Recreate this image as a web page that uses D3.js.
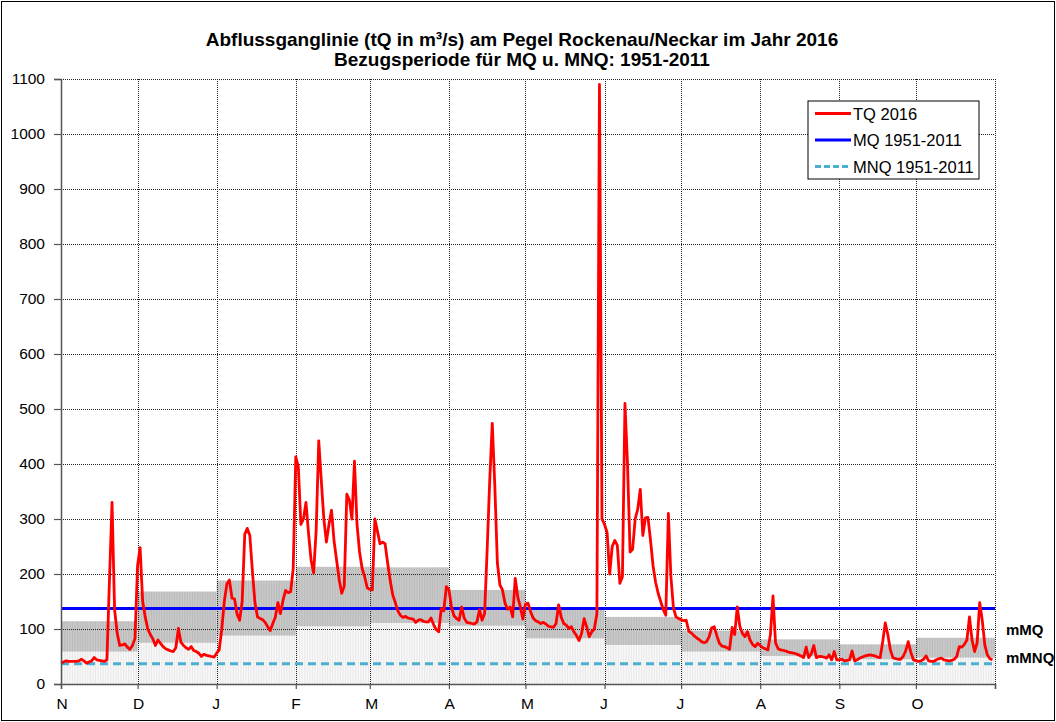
<!DOCTYPE html>
<html>
<head>
<meta charset="utf-8">
<script src="https://cdn.jsdelivr.net/npm/d3@7"></script>
<style>
  body { margin: 0; background: #fff; }
  svg text { font-family: Arial, "Liberation Sans", sans-serif; }
</style>
</head>
<body>
<div class="chart"></div>
<script>
// hydrological year Nov 2015 - Oct 2016
const monthLabels = ['N', 'D', 'J', 'F', 'M', 'A', 'M', 'J', 'J', 'A', 'S', 'O'];
const monthDays = [30, 31, 31, 29, 31, 30, 31, 30, 31, 31, 30, 31];

// monthly mean (mMQ) and mean low flow (mMNQ), m³/s
const mMQ = [114, 168, 188, 213, 212, 171, 140, 122, 97, 81, 72, 84];
const mMNQ = [59, 75, 88, 105, 111, 106, 83, 71, 59, 51, 45, 48];

const MQ = 137.5;  // MQ 1951-2011
const MNQ = 37;    // MNQ 1951-2011

const yTicks = [0, 100, 200, 300, 400, 500, 600, 700, 800, 900, 1000, 1100];

// daily discharge TQ 2016, one row per month
const tq = [
  // Nov
  38, 40, 42, 41, 41, 41, 41, 42, 45, 42, 38, 40, 42, 48, 44, 43, 42, 41, 44, 190, 330, 135, 93, 70, 71, 73, 67, 63, 70, 83,
  // Dec
  215, 248, 150, 122, 100, 90, 82, 70, 80, 74, 68, 64, 62, 60, 59, 66, 101, 76, 70, 66, 63, 68, 61, 59, 56, 50, 54, 52, 51, 50, 49,
  // Jan
  56, 62, 100, 150, 182, 189, 156, 155, 127, 116, 150, 272, 283, 270, 205, 148, 122, 119, 117, 112, 104, 97, 110, 122, 148, 128, 152, 170, 166, 168, 210,
  // Feb
  413, 395, 290, 300, 330, 274, 225, 202, 280, 442, 370, 300, 258, 290, 316, 260, 225, 190, 165, 178, 345, 335, 300, 405, 290, 240, 210, 195, 175,
  // Mar
  172, 171, 300, 278, 255, 258, 255, 220, 188, 162, 148, 133, 125, 121, 123, 120, 119, 118, 112, 116, 117, 114, 113, 113, 120, 108, 99, 95, 137, 133, 177,
  // Apr
  172, 140, 124, 119, 116, 140, 120, 112, 111, 110, 109, 113, 135, 116, 128, 245, 370, 474, 360, 220, 180, 171, 147, 136, 140, 122, 192, 158, 140, 118,
  // May
  145, 147, 132, 120, 115, 113, 110, 112, 109, 105, 104, 103, 110, 144, 122, 110, 107, 101, 104, 95, 88, 79, 92, 119, 104, 86, 95, 100, 128, 1090, 300,
  // Jun
  290, 275, 200, 250, 261, 252, 183, 195, 510, 400, 240, 245, 300, 318, 354, 270, 302, 303, 262, 215, 185, 165, 150, 135, 125, 310, 195, 138, 122, 119,
  // Jul
  117, 115, 116, 96, 93, 88, 84, 81, 77, 75, 77, 86, 102, 104, 88, 74, 69, 68, 66, 63, 103, 90, 140, 105, 92, 86, 95, 80, 72, 68, 74,
  // Aug
  70, 66, 64, 62, 90, 160, 75, 64, 62, 61, 60, 58, 57, 56, 55, 53, 51, 48, 67, 48, 55, 70, 48, 50, 50, 49, 47, 53, 44, 59, 44,
  // Sep
  44, 45, 42, 43, 44, 60, 42, 44, 47, 49, 51, 52, 53, 52, 51, 49, 48, 77, 111, 90, 62, 48, 46, 45, 45, 50, 60, 77, 58, 44,
  // Oct
  42, 41, 42, 45, 51, 42, 41, 41, 44, 46, 47, 44, 43, 42, 43, 45, 50, 68, 67, 72, 80, 122, 80, 59, 75, 148, 116, 71, 53, 46, 44
];

const legendItems = ['TQ 2016', 'MQ 1951-2011', 'MNQ 1951-2011'];

const width = 1056, height = 722;
const margin = { top: 79, right: 61, bottom: 38, left: 61 };
const totalDays = d3.sum(monthDays);

const svg = d3.select('.chart')
  .append('svg')
  .attr('width', width)
  .attr('height', height);

// outer frame
svg.append('rect')
  .attr('x', 1.5).attr('y', 1.5)
  .attr('width', width - 3).attr('height', height - 3)
  .attr('fill', 'none')
  .attr('stroke', '#000');

const x = d3.scaleLinear()
  .domain([0, totalDays])
  .range([margin.left, width - margin.right]);

const y = d3.scaleLinear()
  .domain([0, 1100])
  .range([height - margin.bottom, margin.top]);

// month start positions
let monthStarts = [];
let acc = 0;
monthDays.forEach(d => { monthStarts.push(acc); acc += d; });

// one record per day with its month band
let days = [];
monthDays.forEach((n, m) => {
  for (let i = 0; i < n; i++) {
    days.push({ day: monthStarts[m] + i, lo: mMNQ[m], hi: mMQ[m] });
  }
});

//band of monthly values, hatched per day like the original
const band = svg.append('g');

band.selectAll('.under')
  .data(monthDays)
  .enter()
  .append('rect')
  .attr('x', (d, i) => x(monthStarts[i]))
  .attr('width', (d, i) => x(monthStarts[i] + d) - x(monthStarts[i]))
  .attr('y', (d, i) => y(mMNQ[i]))
  .attr('height', (d, i) => y(0) - y(mMNQ[i]))
  .attr('fill', '#f8f8f8');

band.selectAll('.over')
  .data(monthDays)
  .enter()
  .append('rect')
  .attr('x', (d, i) => x(monthStarts[i]))
  .attr('width', (d, i) => x(monthStarts[i] + d) - x(monthStarts[i]))
  .attr('y', (d, i) => y(mMQ[i]))
  .attr('height', (d, i) => y(mMNQ[i]) - y(mMQ[i]))
  .attr('fill', '#c9c9c9');

band.selectAll('.hatch-lo')
  .data(days)
  .enter()
  .append('line')
  .attr('x1', d => x(d.day + 0.5))
  .attr('x2', d => x(d.day + 0.5))
  .attr('y1', y(0))
  .attr('y2', d => y(d.lo))
  .attr('stroke', '#e3e3e3')
  .attr('stroke-width', 0.8);

band.selectAll('.hatch-hi')
  .data(days)
  .enter()
  .append('line')
  .attr('x1', d => x(d.day + 0.5))
  .attr('x2', d => x(d.day + 0.5))
  .attr('y1', d => y(d.lo))
  .attr('y2', d => y(d.hi))
  .attr('stroke', '#bababa')
  .attr('stroke-width', 1);

// grid
const grid = svg.append('g')
  .attr('stroke', '#222')
  .attr('stroke-width', 1)
  .attr('stroke-dasharray', '1,1');

grid.selectAll('.hgrid')
  .data(yTicks.slice(1))
  .enter()
  .append('line')
  .attr('x1', x(0))
  .attr('x2', x(totalDays))
  .attr('y1', d => Math.round(y(d)) + 0.5)
  .attr('y2', d => Math.round(y(d)) + 0.5);

grid.selectAll('.vgrid')
  .data(monthStarts.slice(1).concat([totalDays]))
  .enter()
  .append('line')
  .attr('x1', d => Math.round(x(d)) + 0.5)
  .attr('x2', d => Math.round(x(d)) + 0.5)
  .attr('y1', y(1100))
  .attr('y2', y(0));

// MNQ dashed
svg.append('line')
  .attr('x1', x(0)).attr('x2', x(totalDays))
  .attr('y1', y(MNQ)).attr('y2', y(MNQ))
  .attr('stroke', '#4bafcf')
  .attr('stroke-width', 3)
  .attr('stroke-dasharray', '8,5');

// MQ
svg.append('line')
  .attr('x1', x(0)).attr('x2', x(totalDays))
  .attr('y1', y(MQ)).attr('y2', y(MQ))
  .attr('stroke', '#0000ff')
  .attr('stroke-width', 3);

// TQ 2016
const line = d3.line()
  .x((d, i) => x(i))
  .y(d => y(d));

svg.append('path')
  .datum(tq)
  .attr('d', line)
  .attr('fill', 'none')
  .attr('stroke', '#ff0000')
  .attr('stroke-width', 2.8)
  .attr('stroke-linejoin', 'round');

// axes
const yAxis = d3.axisLeft(y)
  .tickValues(yTicks)
  .tickSize(7)
  .tickPadding(9)
  .tickFormat(d3.format('d'));

const gy = svg.append('g')
  .attr('transform', `translate(${x(0)},0)`)
  .call(yAxis);

const xAxis = d3.axisBottom(x)
  .tickValues(monthStarts.concat([totalDays]))
  .tickSize(5)
  .tickPadding(9)
  .tickFormat((d, i) => monthLabels[i] || '');

const gx = svg.append('g')
  .attr('transform', `translate(0,${y(0)})`)
  .call(xAxis);

[gx, gy].forEach(g => {
  g.select('.domain').attr('stroke', '#555').attr('stroke-width', 1.5);
  g.selectAll('.tick line').attr('stroke', '#555').attr('stroke-width', 1.2);
  g.selectAll('.tick text')
    .attr('fill', '#000')
    .style('font-size', '15.5px')
    .style('font-family', 'Arial, "Liberation Sans", sans-serif');
});

// month labels sit a bit to the right of their tick
gx.selectAll('.tick text').attr('text-anchor', 'start').attr('dx', -5);

// title
svg.append('text')
  .attr('x', 522).attr('y', 46)
  .attr('text-anchor', 'middle')
  .style('font-size', '19px')
  .style('font-weight', 'bold')
  .text('Abflussganglinie (tQ in m³/s) am Pegel Rockenau/Neckar im Jahr 2016');

svg.append('text')
  .attr('x', 522).attr('y', 66)
  .attr('text-anchor', 'middle')
  .style('font-size', '19px')
  .style('font-weight', 'bold')
  .text('Bezugsperiode für MQ u. MNQ: 1951-2011');

// right side labels
svg.append('text')
  .attr('x', 1006).attr('y', 635)
  .style('font-size', '15px')
  .style('font-weight', 'bold')
  .text('mMQ');

svg.append('text')
  .attr('x', 1006).attr('y', 663)
  .style('font-size', '15px')
  .style('font-weight', 'bold')
  .text('mMNQ');

// legend
const legend = svg.append('g').attr('transform', 'translate(808,101)');

legend.append('rect')
  .attr('width', 171).attr('height', 78)
  .attr('fill', '#fff')
  .attr('stroke', '#000')
  .attr('stroke-width', 1);

const legendColors = ['#ff0000', '#0000ff', '#4bafcf'];
const legendDash = [null, null, '6,3'];

legendItems.forEach((t, i) => {
  const ly = 12.5 + i * 26.5;
  legend.append('line')
    .attr('x1', 7).attr('x2', 43)
    .attr('y1', ly).attr('y2', ly)
    .attr('stroke', legendColors[i])
    .attr('stroke-width', 3)
    .attr('stroke-dasharray', legendDash[i]);
  legend.append('text')
    .attr('x', 45).attr('y', ly + 6)
    .style('font-size', '16.5px')
    .text(t);
});
</script>
</body>
</html>
